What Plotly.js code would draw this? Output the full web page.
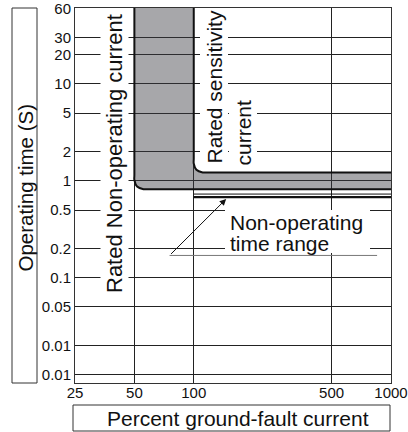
<!DOCTYPE html>
<html>
<head>
<meta charset="utf-8">
<script src="https://cdn.plot.ly/plotly-3.0.1.min.js"></script>
<style>html,body{margin:0;padding:0;background:#fff;}#chart{width:408px;height:432px;}</style>
</head>
<body>
<div id="chart"></div>
<script>
// ---- data ----
const xTickVals = [25, 50, 100, 500, 1000];
const xTickText = ['25', '50', '100', '500', '1000'];
const yTickVals = [60, 30, 20, 10, 5, 2, 1, 0.5, 0.2, 0.1, 0.05, 0.02, 0.01];
const yTickText = ['60', '30', '20', '10', '5', '2', '1', '0.5', '0.2', '0.1', '0.05', '0.01', '0.01'];

// Rated non-operating current curve (vertical at 50 %, flattening at ~0.82 s)
const nonOpX = [50, 50, 50, 51.6, 55.6, 60, 1000];
const nonOpY = [100, 1.15, 1.02, 0.873, 0.82, 0.82, 0.82];
// Rated sensitivity current curve (vertical at 100 %, flattening at ~1.22 s)
const sensX = [100, 100, 100, 103.1, 111, 120, 1000];
const sensY = [100, 1.7, 1.51, 1.30, 1.22, 1.22, 1.22];
// Non-operating time range lines
const rangeUpperX = [100, 1000];
const rangeUpperY = [0.73, 0.73];
const rangeLowerX = [100, 1000];
const rangeLowerY = [0.68, 0.68];
// Leader line and arrow of the "Non-operating time range" callout
const leaderX = [75.4, 850];
const leaderY = [0.17, 0.17];
const arrowX = [75.4, 146];   // tail, tip
const arrowY = [0.17, 0.65];

// ---- layout helpers (plot area: 75..391 px wide, 8..383 px tall) ----
const PL = 75, PR = 391, PT = 8, PB = 383;
const px = v => (v - PL) / (PR - PL);
const py = v => (PB - v) / (PB - PT);

const FONT = 'Liberation Sans, Arial, sans-serif';
const INK = '#111';

const traces = [
  {x: nonOpX, y: nonOpY, mode: 'lines', hoverinfo: 'skip',
   line: {color: INK, width: 2, shape: 'spline', smoothing: 1}},
  {x: sensX, y: sensY, mode: 'lines', hoverinfo: 'skip', fill: 'tonexty',
   fillcolor: 'rgba(60,60,66,0.45)',
   line: {color: INK, width: 2, shape: 'spline', smoothing: 1}},
  {x: rangeUpperX, y: rangeUpperY, mode: 'lines', hoverinfo: 'skip',
   line: {color: INK, width: 1}},
  {x: rangeLowerX, y: rangeLowerY, mode: 'lines', hoverinfo: 'skip',
   line: {color: INK, width: 2.2}},
  {x: leaderX, y: leaderY, mode: 'lines', hoverinfo: 'skip',
   line: {color: '#777', width: 1}}
];

const axisCommon = {
  type: 'log', showgrid: true, gridcolor: '#222', gridwidth: 1,
  showline: true, mirror: true, linecolor: '#333', linewidth: 1,
  ticks: '', ticklen: 0, zeroline: false, fixedrange: true,
  ticklabeloverflow: 'allow',
  tickfont: {family: FONT, size: 15, color: INK}
};

const layout = {
  width: 408, height: 432,
  margin: {l: PL, r: 408 - PR, t: PT, b: 432 - PB, pad: 0},
  paper_bgcolor: '#fff', plot_bgcolor: '#fff',
  showlegend: false,
  font: {family: FONT, color: INK},
  xaxis: Object.assign({}, axisCommon, {
    range: [Math.log10(25), 3], tickmode: 'array',
    tickvals: xTickVals, ticktext: xTickText, ticklabelstandoff: -4
  }),
  yaxis: Object.assign({}, axisCommon, {
    range: [-2.085, Math.log10(60) + 0.004], tickmode: 'array',
    tickvals: yTickVals, ticktext: yTickText
  }),
  shapes: [
    {type: 'rect', xref: 'paper', yref: 'paper', x0: px(12), x1: px(37), y0: py(383), y1: py(8),
     line: {color: '#333', width: 1}, fillcolor: 'rgba(0,0,0,0)'},
    {type: 'rect', xref: 'paper', yref: 'paper', x0: px(73), x1: px(390), y0: py(431), y1: py(405),
     line: {color: '#333', width: 1}, fillcolor: 'rgba(0,0,0,0)'},
    {type: 'rect', xref: 'paper', yref: 'paper', x0: px(225), x1: px(370), y0: py(253), y1: py(210),
     line: {width: 0}, fillcolor: '#fff', layer: 'above'}
  ],
  annotations: [
    {xref: 'paper', yref: 'paper', x: px(24.5), y: py(188), text: 'Operating time (S)',
     textangle: -90, showarrow: false, xanchor: 'center', yanchor: 'middle',
     font: {family: FONT, size: 20.5, color: INK}},
    {xref: 'paper', yref: 'paper', x: px(237.5), y: py(418), text: 'Percent ground-fault current',
     showarrow: false, xanchor: 'center', yanchor: 'middle',
     font: {family: FONT, size: 21, color: INK}},
    {xref: 'paper', yref: 'paper', x: px(114), y: py(154), text: 'Rated Non-operating current',
     textangle: -90, showarrow: false, xanchor: 'center', yanchor: 'middle',
     bgcolor: '#fff', borderpad: 1,
     font: {family: FONT, size: 22, color: INK}},
    {xref: 'paper', yref: 'paper', x: px(214), y: py(87.5), text: 'Rated sensitivity',
     textangle: -90, showarrow: false, xanchor: 'center', yanchor: 'middle',
     bgcolor: '#fff', borderpad: 2,
     font: {family: FONT, size: 21, color: INK}},
    {xref: 'paper', yref: 'paper', x: px(243), y: py(132.5), text: 'current',
     textangle: -90, showarrow: false, xanchor: 'center', yanchor: 'middle',
     bgcolor: '#fff', borderpad: 2,
     font: {family: FONT, size: 21, color: INK}},
    {xref: 'paper', yref: 'paper', x: px(228), y: py(223), text: 'Non-operating',
     showarrow: false, xanchor: 'left', yanchor: 'middle',
     font: {family: FONT, size: 21, color: INK}},
    {xref: 'paper', yref: 'paper', x: px(228), y: py(243), text: 'time range',
     showarrow: false, xanchor: 'left', yanchor: 'middle',
     font: {family: FONT, size: 21, color: INK}},
    {xref: 'x', yref: 'y', axref: 'x', ayref: 'y',
     x: Math.log10(arrowX[1]), y: Math.log10(arrowY[1]),
     ax: Math.log10(arrowX[0]), ay: Math.log10(arrowY[0]),
     text: '', showarrow: true, arrowhead: 2, arrowsize: 1.3, arrowwidth: 1, arrowcolor: INK}
  ]
};

Plotly.newPlot('chart', traces, layout, {displayModeBar: false, staticPlot: true});
</script>
</body>
</html>
